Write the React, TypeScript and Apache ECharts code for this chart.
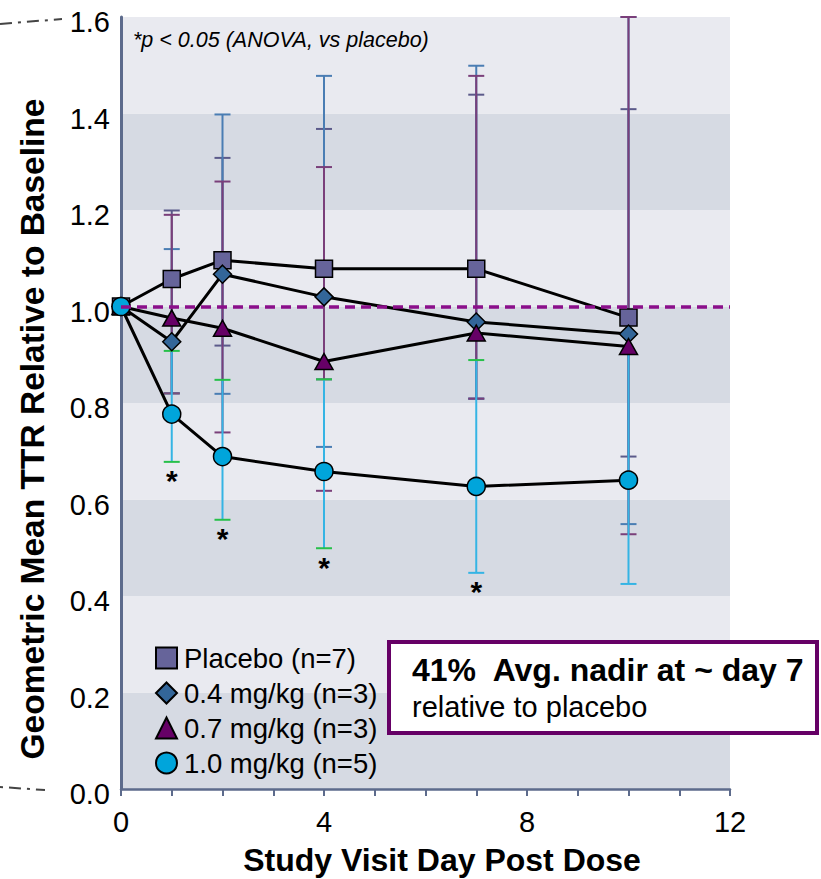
import React, { useEffect, useRef } from "react";
import * as echarts from "echarts";

// ---------- data ----------
const days = [0, 1, 2, 4, 7, 10];
const seriesNames = ["Placebo (n=7)", "0.4 mg/kg (n=3)", "0.7 mg/kg (n=3)", "1.0 mg/kg (n=5)"];

const placeboMean = [1.0, 1.057, 1.096, 1.078, 1.078, 0.977];
const dose04Mean = [1.0, 0.927, 1.067, 1.02, 0.968, 0.943];
const dose07Mean = [1.0, 0.976, 0.955, 0.886, 0.945, 0.917];
const dose10Mean = [1.0, 0.777, 0.689, 0.658, 0.627, 0.64];

const errDays = [1, 2, 4, 7, 10];
const placeboLow = [0.82, 0.919, 0.849, 0.809, 0.689];
const placeboHigh = [1.199, 1.308, 1.368, 1.439, 1.409];
const dose04Low = [0.82, 0.819, 0.709, 0.809, 0.549];
const dose04High = [1.119, 1.398, 1.478, 1.499, 1.6];
const dose07Low = [0.82, 0.739, 0.618, 0.809, 0.528];
const dose07High = [1.19, 1.259, 1.289, 1.478, 1.6];
const dose10Low = [0.678, 0.558, 0.499, 0.448, 0.425];
const dose10High = [0.908, 0.848, 0.849, 0.889, 0.943];

const significantDays = [1, 2, 4, 7];
const xLabelDays = [0, 4, 8, 12];
const referenceValue = 1.0;

const noteText = "*p < 0.05 (ANOVA, vs placebo)";
const boxLine1 = "41%  Avg. nadir at ~ day 7";
const boxLine2 = "relative to placebo";
const yTitle = "Geometric Mean TTR Relative to Baseline";
const xTitle = "Study Visit Day Post Dose";

// ---------- styles ----------
const FONT = '"Liberation Sans", Arial, sans-serif';
const GREEN = "#27c04a";
const CYAN = "#35b4e4";
const styles = [
  { symbol: "rect", size: 17, fill: "#66649a", err: "#5b5a8a", up: ["#5b5a8a", "#5b5a8a", "#5b5a8a", "#5b5a8a", "#5b5a8a"], lo: ["#6b5a80", "#5b5a8a", "#5b5a8a", "#5b5a8a", "#5b5a8a"] },
  { symbol: "diamond", size: 18, fill: "#336699", err: "#4a7db3", up: ["#4a7db3", "#4a7db3", "#4a7db3", "#4a7db3", "#4a7db3"], lo: ["#4a7db3", "#4a7db3", "#4a7db3", "#4a7db3", "#4a7db3"] },
  { symbol: "triangle", size: [18, 16], fill: "#660066", err: "#7a3f7a", up: ["#7a3f7a", "#7a3f7a", "#7a3f7a", "#7a3f7a", "#7a3f7a"], lo: ["#7a4f7a", "#7a3f7a", "#7a3f7a", "#7a3f7a", "#7a3f7a"] },
  { symbol: "circle", size: 18, fill: "#00a5db", err: CYAN, up: [GREEN, GREEN, GREEN, GREEN, CYAN], lo: [GREEN, GREEN, GREEN, CYAN, CYAN] },
];

const means = [placeboMean, dose04Mean, dose07Mean, dose10Mean];
const lows = [placeboLow, dose04Low, dose07Low, dose10Low];
const highs = [placeboHigh, dose04High, dose07High, dose10High];

function errorSeries(i: number) {
  const st = styles[i];
  return {
    type: "custom",
    name: seriesNames[i] + " range",
    z: 2,
    silent: true,
    clip: false,
    encode: { x: 0, y: [1, 2] },
    data: errDays.map((d, k) => [d, lows[i][k], highs[i][k]]),
    renderItem: (params: any, api: any) => {
      const x = api.value(0);
      const pLo = api.coord([x, api.value(1)]);
      const pHi = api.coord([x, api.value(2)]);
      const h = 8;
      const idx = params.dataIndex;
      return {
        type: "group",
        children: [
          { type: "line", shape: { x1: pLo[0], y1: pLo[1], x2: pHi[0], y2: pHi[1] }, style: { stroke: st.err, lineWidth: 2 } },
          { type: "line", shape: { x1: pHi[0] - h, y1: pHi[1], x2: pHi[0] + h, y2: pHi[1] }, style: { stroke: st.up[idx], lineWidth: 2 } },
          { type: "line", shape: { x1: pLo[0] - h, y1: pLo[1], x2: pLo[0] + h, y2: pLo[1] }, style: { stroke: st.lo[idx], lineWidth: 2 } },
        ],
      };
    },
  };
}

function lineSeries(i: number) {
  const s: any = {
    type: "line",
    name: seriesNames[i] + " trend",
    z: 3,
    symbol: "none",
    silent: true,
    lineStyle: { color: "#000", width: 3 },
    data: days.map((d, k) => [d, means[i][k]]),
  };
  if (i === 0) {
    s.markLine = {
      silent: true,
      symbol: ["none", "none"],
      label: { show: false },
      lineStyle: { color: "#8b0f8b", width: 3.5, type: [10, 6] },
      data: [{ yAxis: referenceValue }],
    };
  }
  return s;
}

function markerSeries(i: number) {
  const st = styles[i];
  return {
    type: "scatter",
    name: seriesNames[i],
    z: 4,
    symbol: st.symbol,
    symbolSize: st.size,
    itemStyle: { color: st.fill, borderColor: "#000", borderWidth: 1.5, opacity: 1 },
    data: days.map((d, k) => [d, means[i][k]]),
  };
}

const asteriskSeries = {
  type: "custom",
  name: "significance",
  z: 4,
  silent: true,
  clip: false,
  data: significantDays.map((d) => [d, dose10Low[errDays.indexOf(d)]]),
  renderItem: (params: any, api: any) => {
    const p = api.coord([api.value(0), api.value(1)]);
    return {
      type: "text",
      x: p[0],
      y: p[1] + 4,
      style: { text: "*", fontSize: 30, fontWeight: "bold", fontFamily: FONT, fill: "#000", align: "center", verticalAlign: "top" },
    };
  },
};

const option: any = {
  animation: false,
  backgroundColor: "#ffffff",
  grid: { left: 121, right: 91, top: 17, bottom: 90, containLabel: false },
  xAxis: {
    type: "value",
    min: 0,
    max: 12,
    interval: 1,
    axisLine: { show: true, lineStyle: { color: "#5d6b8c", width: 2.5 } },
    axisTick: { show: true, length: 7, lineStyle: { color: "#5d6b8c", width: 2 } },
    axisLabel: {
      margin: 18,
      fontSize: 29,
      color: "#000",
      fontFamily: FONT,
      formatter: (v: number) => (xLabelDays.includes(v) ? String(v) : ""),
    },
    splitLine: { show: false },
  },
  yAxis: {
    type: "value",
    min: 0,
    max: 1.6,
    interval: 0.2,
    axisLine: { show: true, lineStyle: { color: "#5d6b8c", width: 3 } },
    axisTick: { show: false },
    axisLabel: {
      margin: 11,
      fontSize: 29,
      color: "#000",
      fontFamily: FONT,
      verticalAlign: "top",
      lineHeight: 10,
      formatter: (v: number) => v.toFixed(1),
    },
    splitLine: { show: false },
    splitArea: { show: true, areaStyle: { color: ["#d6dae3", "#e9eaf0"] } },
  },
  legend: {
    orient: "vertical",
    left: 155,
    top: 644,
    padding: 0,
    itemWidth: 21,
    itemHeight: 21,
    itemGap: 7,
    selectedMode: false,
    textStyle: { fontSize: 27.5, lineHeight: 27, color: "#000", fontFamily: FONT, padding: [0, 0, 0, 2] },
    data: seriesNames.map((n, i) => ({ name: n, icon: styles[i].symbol })),
  },
  graphic: [
    { type: "line", shape: { x1: 0, y1: 24, x2: 62, y2: 19 }, style: { stroke: "#444", lineWidth: 2, lineDash: [12, 6, 3, 6] } },
    { type: "line", shape: { x1: 0, y1: 787, x2: 45, y2: 790 }, style: { stroke: "#444", lineWidth: 2, lineDash: [3, 6, 12, 6] } },
    {
      type: "text",
      x: 133,
      y: 40,
      z: 100,
      style: { text: noteText, fontSize: 21.5, fontStyle: "italic", fontFamily: FONT, fill: "#000", verticalAlign: "middle" },
    },
    {
      type: "text",
      x: 32,
      y: 429,
      rotation: Math.PI / 2,
      style: { text: yTitle, fontSize: 33.5, fontWeight: "bold", fontFamily: FONT, fill: "#000", align: "center", verticalAlign: "middle" },
    },
    {
      type: "text",
      x: 442,
      y: 860,
      style: { text: xTitle, fontSize: 32, fontWeight: "bold", fontFamily: FONT, fill: "#000", align: "center", verticalAlign: "middle" },
    },
    {
      type: "rect",
      shape: { x: 389, y: 642, width: 428, height: 91 },
      style: { fill: "#fff", stroke: "#660066", lineWidth: 4 },
      z: 100,
    },
    {
      type: "text",
      x: 412,
      y: 670,
      z: 101,
      style: { text: boxLine1, fontSize: 32, fontWeight: "bold", fontFamily: FONT, fill: "#000", verticalAlign: "middle" },
    },
    {
      type: "text",
      x: 412,
      y: 707,
      z: 101,
      style: { text: boxLine2, fontSize: 29, fontFamily: FONT, fill: "#000", verticalAlign: "middle" },
    },
  ],
  series: [
    ...[0, 1, 2, 3].map(errorSeries),
    ...[0, 1, 2, 3].map(lineSeries),
    ...[0, 1, 2, 3].map(markerSeries),
    asteriskSeries,
  ],
};

export default function App() {
  const ref = useRef<HTMLDivElement>(null);
  useEffect(() => {
    document.body.style.margin = "0";
    const chart = echarts.init(ref.current as HTMLDivElement, null, { renderer: "svg" });
    chart.setOption(option);
    return () => chart.dispose();
  }, []);
  return <div ref={ref} style={{ width: 821, height: 879 }} />;
}
